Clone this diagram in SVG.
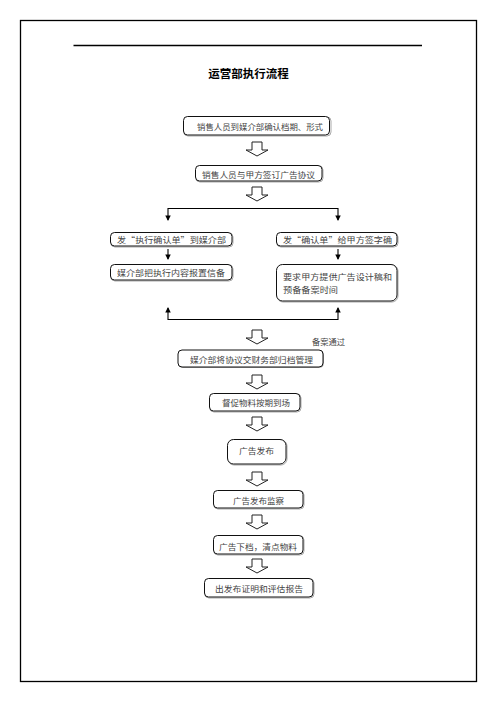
<svg xmlns="http://www.w3.org/2000/svg" width="496" height="702" viewBox="0 0 496 702">
<defs>
<style>
.frame{fill:none;stroke:#000;stroke-width:1.3}
.box{fill:#fff;stroke:#111;stroke-width:1}
.sh{fill:none;stroke:#aaa;stroke-width:1}
.t{font-family:"Noto Sans CJK SC","Liberation Serif",serif;font-size:8.5px;fill:#444;dominant-baseline:central}
.title{font-family:"Noto Sans CJK SC","Liberation Sans",sans-serif;font-size:11.5px;font-weight:bold;fill:#000;dominant-baseline:central}
.ln{fill:none;stroke:#000;stroke-width:1.1}
.blk{fill:#fff;stroke:#222;stroke-width:1}
</style>
<marker id="ah" viewBox="0 0 6 6" refX="5" refY="3" markerWidth="5" markerHeight="5" orient="auto">
<path d="M0,0 L6,3 L0,6 z" fill="#000"/>
</marker>
<path id="barrow" d="M-5,0 H5 V8 H11 L0,14 L-11,8 H-5 Z"/>
</defs>
<rect class="frame" x="20.5" y="20.5" width="456" height="661"/>
<line class="frame" x1="73.5" y1="45.5" x2="422" y2="45.5" stroke-width="1.2"/>
<text class="title" x="248.5" y="73" text-anchor="middle">运营部执行流程</text>

<g id="connectors">
<use href="#barrow" class="blk" x="257" y="142"/>
<use href="#barrow" class="blk" x="257" y="187"/>
<line class="ln" x1="168" y1="208.5" x2="338" y2="208.5"/>
<line class="ln" x1="168" y1="208" x2="168" y2="220" marker-end="url(#ah)"/>
<line class="ln" x1="338" y1="208" x2="338" y2="220" marker-end="url(#ah)"/>
<line class="ln" x1="168" y1="249" x2="168" y2="259" marker-end="url(#ah)"/>
<line class="ln" x1="338" y1="249" x2="338" y2="259" marker-end="url(#ah)"/>
<line class="ln" x1="168" y1="319.5" x2="338" y2="319.5"/>
<line class="ln" x1="168" y1="320" x2="168" y2="308" marker-end="url(#ah)"/>
<line class="ln" x1="338" y1="320" x2="338" y2="308" marker-end="url(#ah)"/>
<use href="#barrow" class="blk" x="257" y="330"/>
<text class="t" x="312" y="341" textLength="33" lengthAdjust="spacingAndGlyphs">备案通过</text>
<use href="#barrow" class="blk" x="257" y="375"/>
<use href="#barrow" class="blk" x="257" y="417"/>
<use href="#barrow" class="blk" x="257" y="472"/>
<use href="#barrow" class="blk" x="257" y="515"/>
<use href="#barrow" class="blk" x="257" y="559"/>
</g>

<g id="n1">
<rect class="sh" x="184" y="117" width="147" height="19" rx="4"/>
<rect class="box" x="183.5" y="116.5" width="146" height="18.5" rx="4"/>
<text class="t" x="197" y="126" textLength="126" lengthAdjust="spacingAndGlyphs">销售人员到媒介部确认档期、形式</text>
</g>
<g id="n2">
<rect class="sh" x="196" y="166" width="127" height="16" rx="4"/>
<rect class="box" x="195.5" y="165.5" width="126.5" height="15.5" rx="4"/>
<text class="t" x="202" y="173.5" textLength="113" lengthAdjust="spacingAndGlyphs">销售人员与甲方签订广告协议</text>
</g>
<g id="n3">
<rect class="sh" x="111" y="233" width="122" height="14" rx="4"/>
<rect class="box" x="110.5" y="232.5" width="121.5" height="13.5" rx="4"/>
<text class="t" x="117" y="239" textLength="109" lengthAdjust="spacingAndGlyphs">发“执行确认单”到媒介部</text>
</g>
<g id="n4">
<rect class="sh" x="277" y="233" width="121" height="14" rx="4"/>
<rect class="box" x="276.5" y="232.5" width="120.5" height="13.5" rx="4"/>
<text class="t" x="283" y="239" textLength="109" lengthAdjust="spacingAndGlyphs">发“确认单”给甲方签字确</text>
</g>
<g id="n5">
<rect class="sh" x="111" y="265" width="122" height="16" rx="4"/>
<rect class="box" x="110.5" y="264.5" width="121.5" height="15.5" rx="4"/>
<text class="t" x="117" y="272" textLength="108" lengthAdjust="spacingAndGlyphs">媒介部把执行内容报置信备</text>
</g>
<g id="n6">
<rect class="sh" x="277" y="265" width="121" height="37" rx="6"/>
<rect class="box" x="276.5" y="264.5" width="120.5" height="36.5" rx="6"/>
<text class="t" x="283" y="275.5" textLength="109" lengthAdjust="spacingAndGlyphs">要求甲方提供广告设计稿和</text>
<text class="t" x="283" y="288.5" textLength="55" lengthAdjust="spacingAndGlyphs">预备备案时间</text>
</g>
<g id="n7">
<rect class="sh" x="178.5" y="350.5" width="145" height="17" rx="4"/>
<rect class="box" x="178" y="350" width="145" height="17" rx="4"/>
<text class="t" x="190" y="358.5" textLength="123" lengthAdjust="spacingAndGlyphs">媒介部将协议交财务部归档管理</text>
</g>
<g id="n8">
<rect class="sh" x="210" y="394" width="91" height="18" rx="4"/>
<rect class="box" x="209.5" y="393.5" width="90.5" height="17.5" rx="4"/>
<text class="t" x="222" y="402" textLength="68" lengthAdjust="spacingAndGlyphs">督促物料按期到场</text>
</g>
<g id="n9">
<rect class="sh" x="228" y="440" width="59" height="25" rx="6"/>
<rect class="box" x="227.5" y="439.5" width="58.5" height="24.5" rx="6"/>
<text class="t" x="239" y="450" textLength="35" lengthAdjust="spacingAndGlyphs">广告发布</text>
</g>
<g id="n10">
<rect class="sh" x="214" y="491" width="90" height="18" rx="4"/>
<rect class="box" x="213.5" y="490.5" width="89.5" height="17.5" rx="4"/>
<text class="t" x="233" y="499.5" textLength="51" lengthAdjust="spacingAndGlyphs">广告发布监察</text>
</g>
<g id="n11">
<rect class="sh" x="214" y="536" width="90" height="19" rx="4"/>
<rect class="box" x="213.5" y="535.5" width="89.5" height="18.5" rx="4"/>
<text class="t" x="219" y="545.5" textLength="78" lengthAdjust="spacingAndGlyphs">广告下档，清点物料</text>
</g>
<g id="n12">
<rect class="sh" x="205" y="579" width="109" height="19" rx="4"/>
<rect class="box" x="204.5" y="578.5" width="108.5" height="18.5" rx="4"/>
<text class="t" x="215" y="588" textLength="88" lengthAdjust="spacingAndGlyphs">出发布证明和评估报告</text>
</g>
</svg>
